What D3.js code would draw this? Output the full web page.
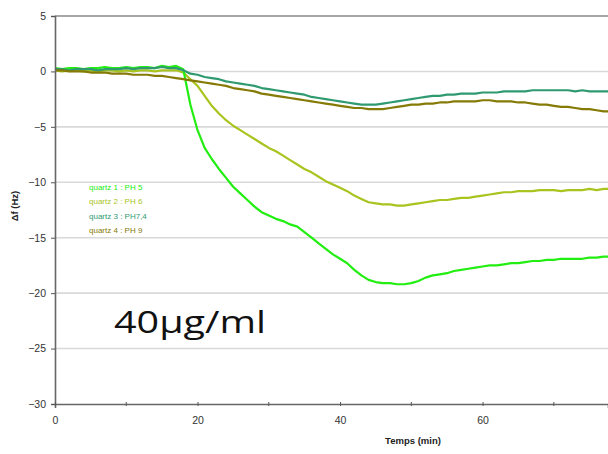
<!DOCTYPE html>
<html><head><meta charset="utf-8">
<script src="https://cdn.jsdelivr.net/npm/d3@7"></script>
<style>body{margin:0;background:#fff}svg{display:block}</style>
</head><body><svg id="c" width="608" height="454"></svg>
<script>
const times = d3.range(0, 79);
const seriesNames = ["quartz 1 : PH 5", "quartz 2 : PH 6", "quartz 3 : PH7,4", "quartz 4 : PH 9"];
const seriesColors = ["#22ee11", "#a8c41e", "#2f9a70", "#857a05"];
const q1 = [0.3,0.2,0.3,0.3,0.2,0.3,0.3,0.4,0.3,0.3,0.4,0.3,0.4,0.4,0.3,0.5,0.4,0.5,
  0.2,-3.0,-5.3,-6.9,-7.9,-8.8,-9.6,-10.4,-11.0,-11.6,-12.2,-12.7,-13.0,-13.3,-13.5,-13.8,-14.0,-14.5,-15.0,-15.5,-16.0,-16.5,-16.9,-17.3,-17.9,-18.4,-18.8,-19.0,-19.1,-19.1,-19.2,-19.2,-19.1,-18.9,-18.6,-18.4,-18.3,-18.2,-18.0,-17.9,-17.8,-17.7,-17.6,-17.5,-17.5,-17.4,-17.3,-17.3,-17.2,-17.1,-17.1,-17.0,-17.0,-16.9,-16.9,-16.9,-16.9,-16.8,-16.8,-16.7,-16.7];
const q2 = [0.1,0.0,0.1,0.1,0.0,0.1,0.0,0.1,0.1,0.0,0.1,0.0,0.1,0.1,0.0,0.1,0.1,0.1,
  -0.1,-0.7,-1.3,-2.2,-3.1,-3.8,-4.4,-4.9,-5.3,-5.7,-6.1,-6.5,-6.9,-7.2,-7.6,-8.0,-8.4,-8.8,-9.1,-9.5,-9.9,-10.2,-10.5,-10.8,-11.2,-11.5,-11.8,-11.9,-12.0,-12.0,-12.1,-12.1,-12.0,-11.9,-11.8,-11.7,-11.6,-11.6,-11.5,-11.4,-11.4,-11.3,-11.2,-11.1,-11.0,-10.9,-10.9,-10.8,-10.8,-10.8,-10.7,-10.7,-10.7,-10.8,-10.7,-10.7,-10.7,-10.6,-10.7,-10.6,-10.6];
const q3 = [0.2,0.2,0.1,0.2,0.2,0.2,0.1,0.2,0.2,0.2,0.3,0.2,0.3,0.3,0.3,0.4,0.3,0.3,
  0.1,-0.2,-0.3,-0.5,-0.6,-0.7,-0.9,-1.0,-1.1,-1.2,-1.3,-1.5,-1.6,-1.7,-1.8,-1.9,-2.0,-2.1,-2.3,-2.4,-2.5,-2.6,-2.7,-2.8,-2.9,-3.0,-3.0,-3.0,-2.9,-2.8,-2.7,-2.6,-2.5,-2.4,-2.3,-2.2,-2.2,-2.1,-2.1,-2.0,-2.0,-2.0,-1.9,-1.9,-1.9,-1.8,-1.8,-1.8,-1.8,-1.7,-1.7,-1.7,-1.7,-1.7,-1.7,-1.8,-1.7,-1.8,-1.8,-1.8,-1.8];
const q4 = [0.1,0.1,0.0,0.0,0.0,-0.1,-0.1,-0.1,-0.2,-0.2,-0.2,-0.3,-0.3,-0.3,-0.4,-0.4,-0.5,-0.6,
  -0.7,-0.8,-0.9,-1.0,-1.1,-1.2,-1.3,-1.5,-1.6,-1.7,-1.8,-2.0,-2.1,-2.2,-2.3,-2.4,-2.5,-2.6,-2.7,-2.8,-2.9,-3.0,-3.1,-3.2,-3.3,-3.3,-3.4,-3.4,-3.4,-3.3,-3.2,-3.1,-3.0,-3.0,-2.9,-2.9,-2.8,-2.8,-2.7,-2.7,-2.7,-2.7,-2.6,-2.6,-2.7,-2.7,-2.7,-2.8,-2.8,-2.9,-3.0,-3.0,-3.1,-3.2,-3.2,-3.3,-3.4,-3.4,-3.5,-3.6,-3.6];
const xTicks = [0, 20, 40, 60];
const xMinorTicks = [10, 30, 50, 70];
const yTicks = [5, 0, -5, -10, -15, -20, -25, -30];
const annotation = "40µg/ml";
const xTitle = "Temps (min)";
const yTitle = "Δf (Hz)";

const svg = d3.select("#c");
const x = d3.scaleLinear().domain([0, 77.6]).range([55, 608]);
const y = d3.scaleLinear().domain([-30, 5]).range([404, 16]);

// gridlines
svg.append("g").selectAll("line").data(yTicks.filter(v => v !== -30)).join("line")
  .attr("x1", 55).attr("x2", 608).attr("y1", d => y(d)).attr("y2", d => y(d))
  .attr("stroke", d => d === 5 ? "#8a8a8a" : "#d9d9d9").attr("stroke-width", 1.6);

// series
const all = [q1, q2, q3, q4];
const line = d3.line().x((d, i) => x(times[i])).y(d => y(d));
const drawOrder = [1, 0, 2, 3];
drawOrder.forEach(k => {
  svg.append("path").datum(all[k]).attr("d", line)
    .attr("fill", "none").attr("stroke", seriesColors[k])
    .attr("stroke-width", 2.2).attr("stroke-linejoin", "round");
});

// axes
const yAxis = svg.append("g").attr("transform", "translate(55,0)")
  .call(d3.axisLeft(y).tickValues(yTicks).tickSize(4).tickPadding(5).tickFormat(d3.format("d")));
const xAxis = svg.append("g").attr("transform", "translate(0,404)")
  .call(d3.axisBottom(x).tickValues(xTicks).tickSize(4).tickPadding(9).tickFormat(d3.format("d")));
svg.append("g").selectAll("line").data(xMinorTicks).join("line")
  .attr("x1", d => x(d)).attr("x2", d => x(d)).attr("y1", 402).attr("y2", 406)
  .attr("stroke", "#555").attr("stroke-width", 1);
[yAxis, xAxis].forEach(a => {
  a.select(".domain").attr("stroke", "#666").attr("stroke-width", 1.6);
  a.selectAll(".tick line").attr("stroke", "#555");
  a.selectAll(".tick text").attr("fill", "#333").attr("font-family", "Liberation Sans, Arial, sans-serif")
    .attr("font-size", 10.5);
});
xAxis.selectAll(".tick line").attr("transform", "translate(0,-2)");

// axis titles
svg.append("text").attr("x", 413).attr("y", 444).attr("text-anchor", "middle")
  .attr("font-family", "Liberation Sans, Arial, sans-serif").attr("font-weight", "bold")
  .attr("font-size", 9.5).attr("fill", "#222").text(xTitle);
svg.append("text").attr("transform", "translate(18,206) rotate(-90)").attr("text-anchor", "middle")
  .attr("font-family", "Liberation Sans, Arial, sans-serif").attr("font-weight", "bold")
  .attr("font-size", 9.5).attr("fill", "#222").text(yTitle);

// legend
svg.append("g").selectAll("text").data(seriesNames).join("text")
  .attr("x", 89).attr("y", (d, i) => 190 + i * 14.3)
  .attr("font-family", "Liberation Sans, Arial, sans-serif").attr("font-size", 8)
  .attr("fill", (d, i) => seriesColors[i]).text(d => d);

// annotation
svg.append("text").attr("x", 114).attr("y", 333)
  .attr("font-family", "Open Sans, Lato, sans-serif").attr("font-size", 31)
  .attr("fill", "#111").attr("textLength", 152).attr("lengthAdjust", "spacingAndGlyphs")
  .text(annotation);
</script></body></html>
